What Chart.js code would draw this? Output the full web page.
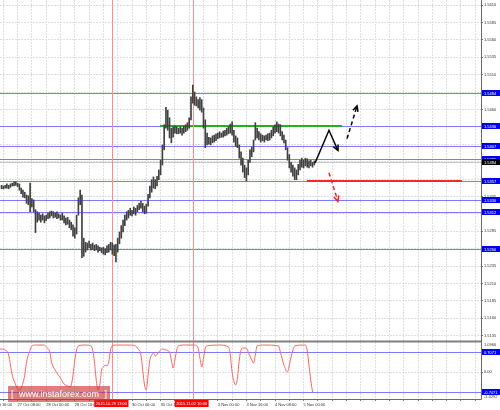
<!DOCTYPE html>
<html><head><meta charset="utf-8">
<script src="https://cdn.jsdelivr.net/npm/chart.js@4.4.0/dist/chart.umd.min.js"></script>
<style>html,body{margin:0;padding:0;background:#fff;}canvas{display:block}</style>
</head><body>
<canvas id="c" width="500" height="410"></canvas>
<script>
// ---- data (H1 bars, hour index 0 = 27 Oct 00:00, weekend compressed) ----
const firstBarHour = -1;
const highs = [
1.5351,1.5350,1.5351,1.5353,1.5351,1.5353,1.5354,1.5356,
1.5356,1.5354,1.5353,1.5347,1.5344,1.5341,1.5337,1.5336,
1.5354,1.5332,1.5330,1.5316,1.5313,1.5311,1.5308,1.5310,
1.5307,1.5308,1.5311,1.5313,1.5314,1.5313,1.5311,1.5313,
1.5310,1.5308,1.5311,1.5307,1.5304,1.5305,1.5301,1.5298,
1.5294,1.5290,1.5308,1.5333,1.5344,1.5337,1.5275,1.5269,
1.5268,1.5271,1.5266,1.5268,1.5265,1.5266,1.5264,1.5262,
1.5261,1.5262,1.5260,1.5264,1.5266,1.5269,1.5268,1.5265,
1.5266,1.5275,1.5284,1.5293,1.5301,1.5308,1.5313,1.5315,
1.5318,1.5315,1.5320,1.5318,1.5322,1.5325,1.5328,1.5325,
1.5321,1.5324,1.5338,1.5350,1.5359,1.5363,1.5359,1.5364,
1.5373,1.5387,1.5409,1.5438,1.5463,1.5459,1.5448,1.5433,
1.5435,1.5436,1.5435,1.5433,1.5435,1.5433,1.5436,1.5438,
1.5441,1.5448,1.5478,1.5495,1.5485,1.5478,1.5474,1.5477,
1.5474,1.5462,1.5445,1.5426,1.5420,1.5419,1.5422,1.5423,
1.5425,1.5426,1.5428,1.5426,1.5429,1.5430,1.5433,1.5435,
1.5439,1.5442,1.5430,1.5422,1.5419,1.5409,1.5399,1.5390,
1.5380,1.5376,1.5387,1.5402,1.5406,1.5416,1.5441,1.5433,
1.5428,1.5425,1.5423,1.5422,1.5423,1.5425,1.5426,1.5430,
1.5435,1.5438,1.5442,1.5439,1.5438,1.5428,1.5423,1.5416,
1.5405,1.5395,1.5384,1.5380,1.5376,1.5373,1.5381,1.5387,
1.5390,1.5387,1.5390,1.5389,1.5386,1.5387,1.5384,1.5386];
const lows = [
1.5346,1.5346,1.5347,1.5347,1.5346,1.5348,1.5350,1.5350,
1.5351,1.5349,1.5344,1.5339,1.5334,1.5333,1.5325,1.5323,
1.5313,1.5320,1.5313,1.5283,1.5298,1.5301,1.5298,1.5301,
1.5297,1.5300,1.5303,1.5304,1.5307,1.5304,1.5305,1.5303,
1.5304,1.5301,1.5301,1.5297,1.5294,1.5295,1.5290,1.5287,
1.5278,1.5275,1.5281,1.5308,1.5323,1.5247,1.5249,1.5255,
1.5258,1.5261,1.5258,1.5259,1.5257,1.5258,1.5255,1.5257,
1.5254,1.5252,1.5251,1.5254,1.5255,1.5258,1.5252,1.5250,
1.5241,1.5255,1.5267,1.5275,1.5284,1.5293,1.5301,1.5304,
1.5308,1.5307,1.5310,1.5308,1.5313,1.5316,1.5318,1.5313,
1.5310,1.5311,1.5321,1.5333,1.5341,1.5347,1.5346,1.5350,
1.5359,1.5366,1.5380,1.5402,1.5433,1.5430,1.5419,1.5412,
1.5420,1.5426,1.5425,1.5425,1.5426,1.5423,1.5426,1.5428,
1.5430,1.5433,1.5445,1.5469,1.5466,1.5465,1.5462,1.5459,
1.5456,1.5433,1.5405,1.5409,1.5410,1.5409,1.5412,1.5413,
1.5415,1.5418,1.5419,1.5420,1.5420,1.5422,1.5423,1.5425,
1.5426,1.5423,1.5413,1.5407,1.5405,1.5390,1.5380,1.5370,
1.5362,1.5357,1.5366,1.5384,1.5392,1.5399,1.5416,1.5419,
1.5416,1.5413,1.5415,1.5413,1.5416,1.5415,1.5416,1.5419,
1.5422,1.5426,1.5428,1.5426,1.5422,1.5416,1.5412,1.5402,
1.5387,1.5376,1.5370,1.5364,1.5359,1.5359,1.5366,1.5373,
1.5377,1.5376,1.5379,1.5377,1.5376,1.5379,1.5377,1.5380];

const priceTicks = [1.5135,1.5160,1.5185,1.5210,1.5235,1.5260,1.5285,1.5310,1.5335,1.5360,
  1.5385,1.5410,1.5435,1.5460,1.5485,1.5510,1.5535,1.5560,1.5585,1.5610];
const levelLines = [1.5484,1.5436,1.5407,1.5389,1.5357,1.5330,1.5312,1.5260];
const currentPrice = 1.5384;
const greenLevel = 1.5436, greenSegment = [87.7, 189.5];
const redLevel = 1.5357, redSegment = [169.9, 256.6];
const markerHours = [61, 106];
const markerLabels = ['2015.10.29 13:00','2015.11.02 10:00'];
const timeTickHours = [-8, 8, 24, 40, 72, 88, 120, 136, 152, 168];
const timeTickLabels = ['26 Oct 16:00','27 Oct 08:00','28 Oct 00:00','28 Oct 16:00','30 Oct 00:00',
  '30 Oct 16:00','3 Nov 00:00','3 Nov 16:00','4 Nov 08:00','5 Nov 00:00'];

const oscHours = [-2,1,3,4,5,7,8,9,10,12,13,15,16,18,23,24,26,27,29,32,34,36,37,38,39,40,41,42,46,49,50,51,52,53,54,55,56,57,58,59,60,61,63,71,74,75,77,78,79,80,81,82,83,84,85,87,88,89,91,93,94,95,96,97,98,102,107,109,110,111,112,113,114,121,126,127,128,130,131,132,133,134,136,137,139,140,141,142,146,154,155,157,159,160,162,163,169,170,171,172,173];
const oscValues = [0.83,0.79,0.61,0.25,-0.11,-0.47,-0.61,-0.65,-0.58,-0.11,0.36,0.79,0.94,0.97,0.97,0.90,0.72,0.36,0.07,-0.22,-0.43,-0.50,-0.54,-0.47,-0.11,0.43,0.79,0.94,0.97,0.94,0.79,0.36,-0.29,-0.65,-0.47,0.07,0.18,0.25,0.22,0.36,0.79,0.94,0.97,0.97,0.94,0.86,0.61,0.07,-0.47,-0.65,-0.11,0.43,0.61,0.68,0.58,0.72,0.79,0.83,0.79,0.72,0.43,0.14,0.43,0.79,0.94,0.97,0.97,0.86,0.50,0.18,0.50,0.86,0.94,0.97,0.90,0.61,0.00,-0.47,-0.22,0.43,0.79,0.86,0.86,0.72,0.43,0.32,0.61,0.94,0.97,0.94,0.72,0.25,0.00,0.25,0.79,0.94,0.97,0.79,0.25,-0.29,-0.72];
const oscLevels = [0.7071, -0.7071];
const oscRangeLabels = ['1.0966', '-1.0292'];

const arrowUpHours = [174.4, 182.2, 187.2], arrowUpPrices = [1.5383, 1.5430, 1.5401];
const arrowDashHours = [192.3, 197.9], arrowDashPrices = [1.5418, 1.5465];
const arrowRedHours = [182.2, 187.2], arrowRedPrices = [1.5369, 1.5328];

// ---- chart ----
const FONT = "'Liberation Sans', Arial, sans-serif";
const tickFont = {family: FONT, size: 4};
const zip = (xs, ys) => xs.map((h, i) => ({x: h, y: ys[i]}));

const overlay = {
  id: 'overlay',
  beforeDatasetsDraw(chart) {
    const {ctx, chartArea: ca, scales: {x, y, y2}} = chart;
    const hl = (py, x0, x1) => { ctx.beginPath(); ctx.moveTo(x0, py); ctx.lineTo(x1, py); ctx.stroke(); };
    ctx.save();
    ctx.lineWidth = 1;
    ctx.strokeStyle = '#c6c6c6';
    hl(Math.round(y.getPixelForValue(currentPrice)) + 0.5, ca.left, ca.right);
    ctx.strokeStyle = '#7a7aff';
    levelLines.forEach(v => hl(Math.round(y.getPixelForValue(v)) + 0.5, ca.left, ca.right));
    oscLevels.forEach(v => hl(Math.round(y2.getPixelForValue(v)) + 0.5, ca.left, ca.right));
    ctx.lineWidth = 2;
    ctx.strokeStyle = '#1fb41f';
    hl(Math.round(y.getPixelForValue(greenLevel)), x.getPixelForValue(greenSegment[0]), x.getPixelForValue(greenSegment[1]));
    ctx.strokeStyle = '#ff2626';
    hl(Math.round(y.getPixelForValue(redLevel)), x.getPixelForValue(redSegment[0]), x.getPixelForValue(redSegment[1]));
    ctx.lineWidth = 1;
    ctx.strokeStyle = '#ff8a8a';
    markerHours.forEach(h => {
      const px = Math.round(x.getPixelForValue(h)) + 0.5;
      ctx.beginPath(); ctx.moveTo(px, ca.top); ctx.lineTo(px, ca.bottom); ctx.stroke();
    });
    ctx.restore();
  },
  afterDatasetsDraw(chart) {
    const {ctx} = chart;
    chart.data.datasets.forEach((ds, i) => {
      if (!ds.arrowHead) return;
      const pts = chart.getDatasetMeta(i).data;
      const a = pts[pts.length - 2], b = pts[pts.length - 1];
      const ang = Math.atan2(b.y - a.y, b.x - a.x);
      const L = 6;
      ctx.save();
      ctx.strokeStyle = ds.borderColor; ctx.lineWidth = 1.5; ctx.setLineDash([]);
      ctx.beginPath();
      ctx.moveTo(b.x - L * Math.cos(ang - 0.45), b.y - L * Math.sin(ang - 0.45));
      ctx.lineTo(b.x, b.y);
      ctx.lineTo(b.x - L * Math.cos(ang + 0.45), b.y - L * Math.sin(ang + 0.45));
      ctx.stroke();
      ctx.restore();
    });
  },
  afterDraw(chart) {
    const {ctx, chartArea: ca, scales: {x, y, y2}} = chart;
    ctx.save();
    // axis frame
    ctx.strokeStyle = '#6a6a6a'; ctx.lineWidth = 1;
    ctx.beginPath(); ctx.moveTo(ca.right + 0.5, 0); ctx.lineTo(ca.right + 0.5, ca.bottom + 0.5);
    ctx.lineTo(ca.left, ca.bottom + 0.5); ctx.stroke();
    // panel separator
    ctx.strokeStyle = '#808080'; ctx.lineWidth = 2;
    ctx.beginPath(); ctx.moveTo(ca.left, y2.top - 0.5); ctx.lineTo(ca.right, y2.top - 0.5); ctx.stroke();
    // right-side value boxes
    ctx.font = `4px ${FONT}`; ctx.textBaseline = 'middle'; ctx.textAlign = 'left';
    const box = (py, txt, bg) => {
      ctx.fillStyle = bg; ctx.fillRect(ca.right + 1, Math.round(py) - 3, 499 - ca.right, 6);
      ctx.fillStyle = '#ffffff'; ctx.fillText(txt, ca.right + 3, Math.round(py) + 0.5);
    };
    levelLines.forEach(v => box(y.getPixelForValue(v), v.toFixed(4), '#0000ee'));
    box(y.getPixelForValue(currentPrice), currentPrice.toFixed(4), '#000000');
    oscLevels.forEach(v => box(y2.getPixelForValue(v), v.toFixed(4), '#0000ee'));
    // oscillator range labels
    ctx.fillStyle = '#333';
    ctx.fillText(oscRangeLabels[0], ca.right + 3, y2.top + 3);
    ctx.fillText(oscRangeLabels[1], ca.right + 3, y2.bottom - 2);
    // vertical line time boxes
    markerHours.forEach((h, i) => {
      const px = x.getPixelForValue(h);
      const w = ctx.measureText(markerLabels[i]).width + 3;
      ctx.fillStyle = '#ff0000'; ctx.fillRect(px - 18, ca.bottom + 1, w, 7);
      ctx.fillStyle = '#ffffff'; ctx.fillText(markerLabels[i], px - 16.5, ca.bottom + 4.5);
    });
    // watermark
    ctx.fillStyle = 'rgba(205,45,45,0.62)';
    ctx.fillRect(8, 386, 102, 16);
    ctx.fillStyle = '#ffffff';
    ctx.font = `9px ${FONT}`; ctx.textBaseline = 'middle';
    ctx.fillText('[', 11, 394.5);
    ctx.textAlign = 'center'; ctx.fillText('www.instaforex.com', 59, 394.5);
    ctx.textAlign = 'right'; ctx.fillText(']', 107, 394.5);
    ctx.restore();
  }
};

const gridCommon = {color: '#dedede', lineWidth: 1, tickLength: 2, tickColor: '#777', tickBorderDash: []};
const borderCommon = {display: false, dash: [2, 1]};
const noPad = s => { s.paddingLeft = 0; s.paddingRight = 0; s.paddingTop = 0; s.paddingBottom = 0; };

new Chart(document.getElementById('c'), {
  type: 'bar',
  data: {
    datasets: [
      {type: 'line', data: zip(arrowUpHours, arrowUpPrices), yAxisID: 'y', borderColor: '#000000',
        borderWidth: 1.5, pointRadius: 0, arrowHead: true, order: 0},
      {type: 'line', data: zip(arrowDashHours, arrowDashPrices), yAxisID: 'y', borderColor: '#000000',
        borderWidth: 1.5, borderDash: [4, 3], pointRadius: 0, arrowHead: true, order: 0},
      {type: 'line', data: zip(arrowRedHours, arrowRedPrices), yAxisID: 'y', borderColor: '#ff2020',
        borderWidth: 1.5, borderDash: [4, 3], pointRadius: 0, arrowHead: true, order: 0},
      {type: 'line', data: zip(oscHours, oscValues), yAxisID: 'y2', borderColor: '#ff6464',
        borderWidth: 1, pointRadius: 0, cubicInterpolationMode: 'monotone', order: 1},
      {type: 'bar', data: highs.map((hv, i) => ({x: firstBarHour + i, y: [lows[i], hv]})), yAxisID: 'y',
        backgroundColor: '#404040', barThickness: 1, order: 2}
    ]
  },
  options: {
    responsive: false, animation: false, devicePixelRatio: 1,
    layout: {padding: 0},
    plugins: {legend: {display: false}, tooltip: {enabled: false}},
    scales: {
      x: {
        type: 'linear', position: 'bottom', offset: false,
        min: -3.3 / 1.7875, max: -3.3 / 1.7875 + 481 / 1.7875,
        afterBuildTicks: s => { const t = []; for (let h = -8; h <= 264; h += 8) t.push({value: h}); s.ticks = t; },
        afterFit: s => { s.height = 11; noPad(s); },
        grid: {...gridCommon, offset: false},
        border: borderCommon,
        ticks: {
          font: tickFont, color: '#333', padding: 1, align: 'start', maxRotation: 0, autoSkip: false,
          callback: v => { const k = timeTickHours.indexOf(v); return k >= 0 ? timeTickLabels[k] : ''; }
        }
      },
      y: {
        type: 'linear', position: 'right', stack: 'panes', stackWeight: 342,
        min: 1.56172 - 342 / 6960, max: 1.56172,
        afterBuildTicks: s => { s.ticks = priceTicks.map(v => ({value: v})); },
        afterFit: s => { s.width = 19; noPad(s); },
        grid: gridCommon, border: borderCommon,
        ticks: {
          font: tickFont, color: '#333', padding: 1,
          callback: v => levelLines.concat([currentPrice]).some(l => Math.abs(l - v) < 0.00045) ? '' : v.toFixed(4)
        }
      },
      y2: {
        type: 'linear', position: 'right', stack: 'panes', stackWeight: 57,
        min: -27 / 27.8, max: 30 / 27.8,
        afterBuildTicks: s => { s.ticks = [{value: 0}]; },
        afterFit: s => { s.width = 19; noPad(s); },
        grid: gridCommon, border: borderCommon,
        ticks: {font: tickFont, color: '#333', padding: 1, callback: v => v.toFixed(2)}
      }
    }
  },
  plugins: [overlay]
});
</script>
</body></html>
